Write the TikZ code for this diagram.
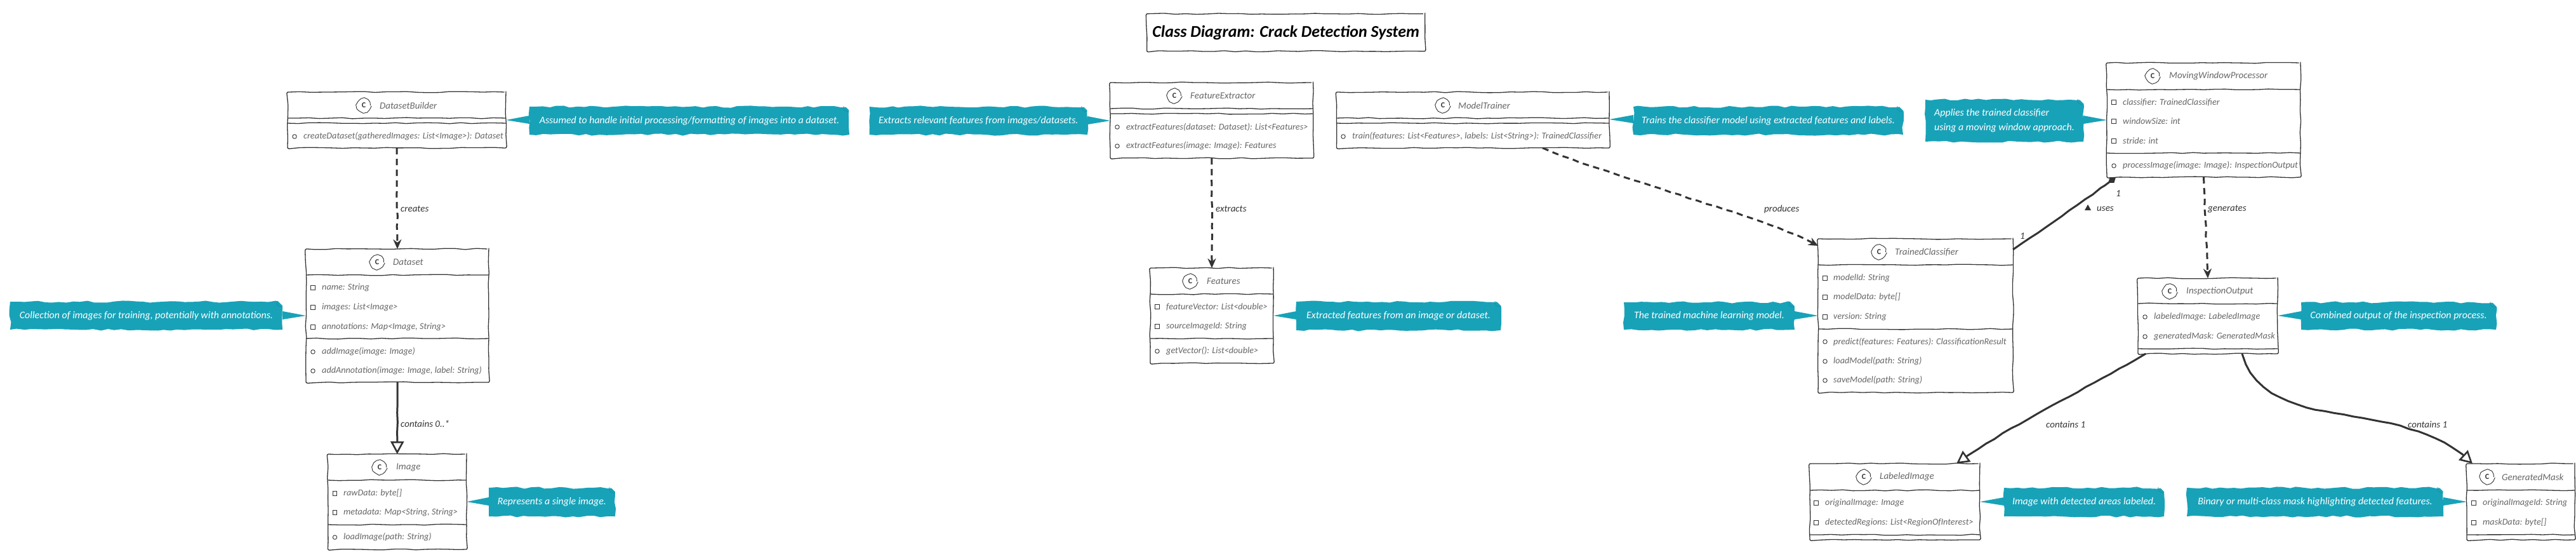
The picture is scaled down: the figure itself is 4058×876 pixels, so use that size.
\documentclass[tikz,border=0pt]{standalone}
\usepackage{fontspec}
\setmainfont{Carlito}
\usetikzlibrary{arrows.meta,decorations.pathmorphing,shapes.geometric}
\definecolor{ink}{HTML}{333333}
\definecolor{soft}{HTML}{666666}
\definecolor{notefill}{HTML}{18A2B8}
\definecolor{notefold}{HTML}{1590A6}
\tikzset{
  wob/.style={decorate,decoration={random steps,segment length=17pt,amplitude=.9pt}},
  boxstyle/.style={draw=ink,line width=1.3pt,rounded corners=2.5pt,fill=white,anchor=north west,inner sep=0pt,outer sep=0pt,wob},
  divider/.style={draw=ink,line width=1.3pt,wob},
  spot/.style={circle,draw=ink,line width=.9pt,fill=white,minimum size=21pt,inner sep=0pt,decorate,decoration={random steps,segment length=5pt,amplitude=.6pt},font=\fontsize{12}{12}\selectfont\bfseries,text=ink},
  ctitle/.style={anchor=west,inner sep=0pt,text=soft,font=\fontsize{15}{15}\selectfont\itshape},
  member/.style={anchor=west,inner sep=0pt,text=soft,font=\fontsize{14.2}{14.2}\selectfont\itshape},
  fieldmark/.style={rectangle,draw=ink,line width=.9pt,minimum size=6.5pt,inner sep=0pt},
  methodmark/.style={circle,draw=ink,line width=.9pt,minimum size=6.5pt,inner sep=0pt},
  notebox/.style={fill=notefill,anchor=north west,inner sep=0pt,outer sep=0pt,text=white,align=left,font=\fontsize{15.9}{23}\selectfont\itshape,decorate,decoration={random steps,segment length=11pt,amplitude=1.6pt}},
  tailfill/.style={fill=notefill},
  lbl/.style={anchor=west,inner sep=0pt,text=ink,font=\fontsize{15}{15}\selectfont\itshape},
  linewob/.style={decorate,decoration={random steps,segment length=15pt,amplitude=.8pt,post=lineto,post length=22pt,pre=lineto,pre length=3pt}},
  depline/.style={draw=ink,line width=3pt,dash pattern=on 10pt off 7pt,linewob,-{Stealth[length=15pt,width=13pt,inset=5pt,line width=.1pt]}},
  solidline/.style={draw=ink,line width=3pt,linewob},
  hollow/.style={solidline,-{Triangle[open,fill=white,length=20pt,width=21pt,line width=2.6pt]}},
  compline/.style={solidline,-{Diamond[length=15pt,width=11pt]}},
}
\newcommand{\classbox}[9]{%
  \node[boxstyle,minimum width={#4-#2},minimum height={#5-#3}] (#1) at (#2,#3) {};
  \node[spot] (#1spot) at (#7,#3+21) {C};
  \node[ctitle] (#1title) at (#8,#3+21) {#6};
  \foreach \dy in {#9} {\draw[divider] (#1.west |- 0,\dy) -- (#1.east |- 0,\dy);}
}
\newcommand{\fld}[6]{% name, marker style, marker x, text x, y, text
  \node[#2] (#1mark) at (#3,#5) {};
  \node[member] (#1) at (#4,#5) {#6};
}
\newcommand{\notepad}[6]{% name x1 y1 x2 y2 text
  \node[notebox,minimum width={#4-#2},minimum height={#5-#3}] (#1) at (#2,#3) {#6};
  \fill[white] (#4-9,#3-3) -- (#4+3,#3-3) -- (#4+3,#3+9) -- cycle;
  \draw[notefold,line width=.8pt] (#4-9,#3-1) .. controls (#4-9,#3+6) .. (#4-1,#3+8);
}
\newcommand{\tail}[5]{% note, note side, box, box side, tip y
  \fill[tailfill] (#1.#2 |- 0,#5-7) -- (#3.#4 |- 0,#5) -- (#1.#2 |- 0,#5+6) -- cycle;
}
\begin{document}
\begin{tikzpicture}[x=1pt,y=-1pt]
\useasboundingbox (0,0) rectangle (4058,876);
\pgfmathsetseed{7}

% title
\node[draw=ink,line width=1.3pt,rounded corners=2.5pt,anchor=north west,inner sep=0pt,minimum width=438pt,minimum height=59pt,text=black,font=\fontsize{26}{26}\selectfont\itshape\bfseries,wob] (title) at (1806,21) {Class Diagram: Crack Detection System};

% DatasetBuilder
\classbox{builder}{453}{145}{797}{233}{DatasetBuilder}{573}{598}{186,194}
\fld{builderA}{methodmark}{464}{478}{215}{createDataset(gatheredImages: List<Image>): Dataset}

% Dataset
\classbox{dataset}{482}{392}{770}{602}{Dataset}{594}{619}{433,533}
\fld{datasetA}{fieldmark}{493}{507}{453}{name: String}
\fld{datasetB}{fieldmark}{493}{507}{484}{images: List<Image>}
\fld{datasetC}{fieldmark}{493}{507}{515}{annotations: Map<Image, String>}
\fld{datasetD}{methodmark}{493}{507}{554}{addImage(image: Image)}
\fld{datasetE}{methodmark}{493}{507}{584}{addAnnotation(image: Image, label: String)}

% Image
\classbox{image}{516.5}{715}{735}{865}{Image}{598}{624}{756,826}
\fld{imageA}{fieldmark}{527.5}{541}{777}{rawData: byte[]}
\fld{imageB}{fieldmark}{527.5}{541}{807}{metadata: Map<String, String>}
\fld{imageC}{methodmark}{527.5}{541}{846}{loadImage(path: String)}

% FeatureExtractor
\classbox{extractor}{1749}{130}{2068.5}{249}{FeatureExtractor}{1850}{1875}{171,179}
\fld{extractorA}{methodmark}{1760}{1774}{200}{extractFeatures(dataset: Dataset): List<Features>}
\fld{extractorB}{methodmark}{1760}{1774}{230}{extractFeatures(image: Image): Features}

% Features
\classbox{features}{1812}{422}{2006}{572}{Features}{1875}{1901}{463,533}
\fld{featuresA}{fieldmark}{1823}{1837}{483}{featureVector: List<double>}
\fld{featuresB}{fieldmark}{1823}{1837}{514}{sourceImageId: String}
\fld{featuresC}{methodmark}{1823}{1837}{553}{getVector(): List<double>}

% ModelTrainer
\classbox{trainer}{2105.5}{145}{2535}{233}{ModelTrainer}{2273}{2297}{186,194}
\fld{trainerA}{methodmark}{2116}{2130}{215}{train(features: List<Features>, labels: List<String>): TrainedClassifier}

% TrainedClassifier
\classbox{classifier}{2864}{376}{3171}{618}{TrainedClassifier}{2960}{2985}{417,518}
\fld{classifierA}{fieldmark}{2875}{2888}{438}{modelId: String}
\fld{classifierB}{fieldmark}{2875}{2888}{468}{modelData: byte[]}
\fld{classifierC}{fieldmark}{2875}{2888}{499}{version: String}
\fld{classifierD}{methodmark}{2875}{2888}{538}{predict(features: Features): ClassificationResult}
\fld{classifierE}{methodmark}{2875}{2888}{569}{loadModel(path: String)}
\fld{classifierF}{methodmark}{2875}{2888}{599}{saveModel(path: String)}

% MovingWindowProcessor
\classbox{mover}{3319}{99}{3624}{279}{MovingWindowProcessor}{3391}{3417}{141,241}
\fld{moverA}{fieldmark}{3330}{3344}{161}{classifier: TrainedClassifier}
\fld{moverB}{fieldmark}{3330}{3344}{191}{windowSize: int}
\fld{moverC}{fieldmark}{3330}{3344}{222}{stride: int}
\fld{moverD}{methodmark}{3330}{3344}{261}{processImage(image: Image): InspectionOutput}

% InspectionOutput
\classbox{output}{3368}{438}{3588}{557}{InspectionOutput}{3418}{3444}{478,549}
\fld{outputA}{methodmark}{3379}{3393}{499}{labeledImage: LabeledImage}
\fld{outputB}{methodmark}{3379}{3393}{530}{generatedMask: GeneratedMask}

% LabeledImage
\classbox{labeled}{2851}{730}{3119}{850}{LabeledImage}{2936}{2961}{772,842}
\fld{labeledA}{fieldmark}{2861}{2875}{792}{originalImage: Image}
\fld{labeledB}{fieldmark}{2861}{2875}{823}{detectedRegions: List<RegionOfInterest>}

% GeneratedMask
\classbox{mask}{3886}{730}{4056}{850}{GeneratedMask}{3918}{3941}{772,842}
\fld{maskA}{fieldmark}{3897}{3911}{792}{originalImageId: String}
\fld{maskB}{fieldmark}{3897}{3911}{823}{maskData: byte[]}

% notes
\notepad{nbuilder}{834}{168}{1338}{212}{Assumed to handle initial processing/formatting of images into a dataset.}
\tail{nbuilder}{west}{builder}{east}{189}
\notepad{ndataset}{16}{475}{445}{519}{Collection of images for training, potentially with annotations.}
\tail{ndataset}{east}{dataset}{west}{497}
\notepad{nimage}{770}{768}{969}{813}{Represents a single image.}
\tail{nimage}{west}{image}{east}{790}
\notepad{nextractor}{1369.5}{168}{1713}{212}{Extracts relevant features from images/datasets.}
\tail{nextractor}{east}{extractor}{west}{190}
\notepad{nfeatures}{2042}{475}{2364}{520}{Extracted features from an image or dataset.}
\tail{nfeatures}{west}{features}{east}{497}
\notepad{ntrainer}{2573}{168}{2998}{212}{Trains the classifier model using extracted features and labels.}
\tail{ntrainer}{west}{trainer}{east}{188}
\notepad{nmover}{3033}{157}{3282}{223}{Applies the trained classifier\\using a moving window approach.}
\tail{nmover}{east}{mover}{west}{189}
\notepad{nclassifier}{2558}{476}{2827}{519}{The trained machine learning model.}
\tail{nclassifier}{east}{classifier}{west}{497}
\notepad{noutput}{3625}{476}{3932}{519}{Combined output of the inspection process.}
\tail{noutput}{west}{output}{east}{497}
\notepad{nlabeled}{3157}{768}{3409}{813}{Image with detected areas labeled.}
\tail{nlabeled}{west}{labeled}{east}{790}
\notepad{nmask}{3445}{768}{3849}{813}{Binary or multi-class mask highlighting detected features.}
\tail{nmask}{east}{mask}{west}{790}

% connectors
\draw[depline] (builder.south) -- (dataset.north);
\node[lbl] (lcreates) at (631,329) {creates};
\draw[hollow] (dataset.south) -- (image.north);
\node[lbl] (lcontains) at (631,667) {contains 0..*};
\draw[depline] (extractor.south) -- (features.north);
\node[lbl] (lextracts) at (1915,329) {extracts};
\draw[depline] (trainer.south -| 2430,0) .. controls (2600,300) and (2780,340) .. (classifier.west |- 0,387);
\node[lbl] (lproduces) at (2779,329) {produces};
\draw[compline] (classifier.east |- 0,393) .. controls (3230,352) and (3290,312) .. (mover.south -| 3333,0);
\node[lbl] (lone) at (3182,372) {1};
\node[lbl] (ltwo) at (3333,305) {1};
\node[lbl] (luses) at (3303,329) {uses};
\fill[ink] (3289,322) -- (3294,331) -- (3284,331) -- cycle;
\draw[depline] (mover.south) -- (output.north);
\node[lbl] (lgenerates) at (3478,329) {generates};
\draw[hollow] (output.south -| 3380,0) .. controls (3270,620) and (3150,680) .. (labeled.north -| 3082,0);
\node[lbl] (lcl) at (3223,668) {contains 1};
\draw[hollow] (output.south -| 3532,0) .. controls (3575,690) and (3780,620) .. (mask.north -| 3895,0);
\node[lbl] (lcm) at (3793,668) {contains 1};
\end{tikzpicture}
\end{document}
